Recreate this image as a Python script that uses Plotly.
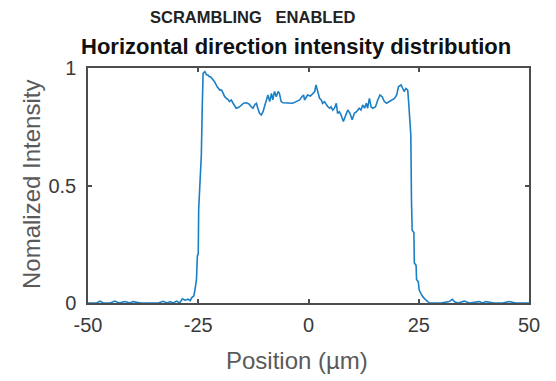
import plotly.graph_objects as go

# Position (um) and normalized intensity
position = [-50, -49, -48, -47.3, -46.5, -45, -43.9, -43, -41.6, -40.5, -39.8, -38, -36, -34, -33, -32,
            -31.4, -30.7, -29.9, -29.2, -28.6, -28.0, -27.3, -26.8, -26.5, -26.0, -25.8, -25.6, -25.4,
            -25.2, -25.0, -24.9, -24.7, -24.5, -24.3, -24.1, -23.9, -23.5, -23.1, -22.8, -22.5, -22.2,
            -21.6, -21.3, -20.7, -20.1, -19.7, -19.4, -19.0, -18.6, -18.3, -17.9, -17.5, -17.1, -16.7,
            -16.4, -15.8, -15.2, -14.7, -14.1, -13.5, -13.0, -12.6, -12.1, -11.8, -11.5, -11.1, -10.7,
            -10.3, -10.0, -9.6, -9.2, -8.8, -8.4, -8.1, -7.7, -7.3, -6.9, -6.6, -6.2, -5.8, -5.0, -4.3,
            -3.6, -2.8, -2.0, -1.5, -1.1, -0.9, -0.5, -0.2, 0.45, 1.0, 1.4, 1.7, 2.1, 2.5, 2.9, 3.2, 3.6,
            4.0, 4.4, 4.8, 5.1, 5.5, 5.9, 6.3, 6.6, 7.0, 7.4, 7.9, 8.4, 8.9, 9.4, 9.9, 10.4, 10.9, 11.5,
            11.9, 12.3, 12.7, 13.1, 13.4, 13.8, 14.2, 14.6, 15.2, 15.7, 16.2, 16.7, 17.2, 17.7, 18.3,
            18.9, 19.5, 20.0, 20.4, 21.0, 21.3, 21.7, 22.1, 22.5, 22.7, 23.0, 23.2, 23.35, 23.5, 23.9,
            24.0, 24.4, 24.5, 24.9, 25.1, 25.5, 25.9, 26.6, 27.4, 28.5, 30, 31.9, 32.6, 33.2, 34, 35.3,
            36.5, 38.7, 39.5, 40.2, 42, 44, 45.5, 47, 50]
intensity = [0.0, 0.0, 0.0, 0.008, 0.0, 0.0, 0.008, 0.0, 0.006, 0.0, 0.006, 0.0, 0.0, 0.0, 0.007, 0.0,
             0.006, 0.0, 0.008, 0.0, 0.018, 0.012, 0.016, 0.01, 0.022, 0.03, 0.05, 0.09, 0.10,
             0.20, 0.21, 0.40, 0.46, 0.52, 0.63, 0.83, 0.977, 0.985, 0.97, 0.97, 0.963, 0.963,
             0.95, 0.942, 0.92, 0.906, 0.906, 0.892, 0.878, 0.871, 0.867, 0.857, 0.864, 0.85, 0.835,
             0.829, 0.833, 0.843, 0.85, 0.852, 0.847, 0.835, 0.829, 0.846, 0.85, 0.829, 0.807, 0.80,
             0.814, 0.835, 0.864, 0.885, 0.857, 0.892, 0.864, 0.90, 0.878, 0.90, 0.892, 0.857, 0.852, 0.852, 0.852,
             0.85, 0.857, 0.864, 0.878, 0.885, 0.864, 0.878, 0.885, 0.881, 0.892, 0.90, 0.928, 0.892, 0.871, 0.864, 0.85, 0.857,
             0.843, 0.835, 0.829, 0.835, 0.821, 0.829, 0.85, 0.807, 0.814, 0.80, 0.772, 0.793, 0.821, 0.807, 0.78, 0.807, 0.814, 0.829,
             0.821, 0.843, 0.829, 0.85, 0.829, 0.871, 0.835, 0.829, 0.835, 0.864, 0.885, 0.878, 0.857, 0.85, 0.857,
             0.864, 0.871, 0.885, 0.92, 0.928, 0.913, 0.90, 0.913, 0.906, 0.857, 0.736, 0.715, 0.44, 0.31, 0.30,
             0.17, 0.16, 0.10, 0.09, 0.055, 0.04, 0.027, 0.013, 0.0, 0.0, 0.0, 0.006, 0.016, 0.004, 0.0, 0.008,
             0.0, 0.006, 0.0, 0.006, 0.0, 0.0, 0.006, 0.0, 0.0]

x_ticks = [-50, -25, 0, 25, 50]
x_tick_labels = ["-50", "-25", "0", "25", "50"]
y_ticks = [0, 0.5, 1]
y_tick_labels = ["0", "0.5", "1"]

suptitle = "SCRAMBLING   ENABLED"
title = "Horizontal direction intensity distribution"
x_label = "Position (\u00b5m)"
y_label = "Nomalized Intensity"

W, H = 556, 381
L, R, T, B = 88, 27, 68, 78

fig = go.Figure()
fig.add_trace(go.Scatter(x=position, y=intensity, mode="lines",
                         line=dict(color="#1a7fc4", width=1.6), showlegend=False,
                         hoverinfo="skip"))

axis_common = dict(showgrid=False, zeroline=False, showline=True, linecolor="#4d4d4d",
                   linewidth=1.5, mirror="ticks", ticks="inside", ticklen=4,
                   tickcolor="#4d4d4d", tickwidth=1.5,
                   tickfont=dict(family="Liberation Sans, Arial, sans-serif", size=20,
                                 color="#3a3a3a"))

fig.update_layout(
    width=W, height=H,
    margin=dict(l=L, r=R, t=T, b=B, pad=0),
    paper_bgcolor="white", plot_bgcolor="white",
    xaxis=dict(range=[-50, 50], tickvals=x_ticks, ticktext=x_tick_labels,
               ticklabelstandoff=3, **axis_common),
    yaxis=dict(range=[0, 1], tickvals=y_ticks, ticktext=y_tick_labels,
               ticklabelstandoff=6, **axis_common),
    annotations=[
        dict(text="<b>" + suptitle + "</b>", xref="paper", yref="paper",
             x=(252 - L) / (W - L - R), y=1 + (T - 17) / (H - T - B),
             showarrow=False, xanchor="center", yanchor="middle",
             font=dict(family="Liberation Sans Narrow, Liberation Sans, Arial", size=16.5, color="#222222")),
        dict(text="<b>" + title + "</b>", xref="paper", yref="paper",
             x=(296 - L) / (W - L - R), y=1 + (T - 46) / (H - T - B),
             showarrow=False, xanchor="center", yanchor="middle",
             font=dict(family="Liberation Sans, Arial", size=22, color="#111111")),
        dict(text=x_label, xref="paper", yref="paper",
             x=(297 - L) / (W - L - R), y=-(360 - (H - B)) / (H - T - B),
             showarrow=False, xanchor="center", yanchor="middle",
             font=dict(family="Liberation Sans, Arial", size=24, color="#5a5a5a")),
        dict(text=y_label, xref="paper", yref="paper", textangle=-90,
             x=-(L - 31) / (W - L - R), y=(H - B - 185) / (H - T - B),
             showarrow=False, xanchor="center", yanchor="middle",
             font=dict(family="Liberation Sans, Arial", size=24, color="#5a5a5a")),
    ],
)

fig.write_html("out.html")
